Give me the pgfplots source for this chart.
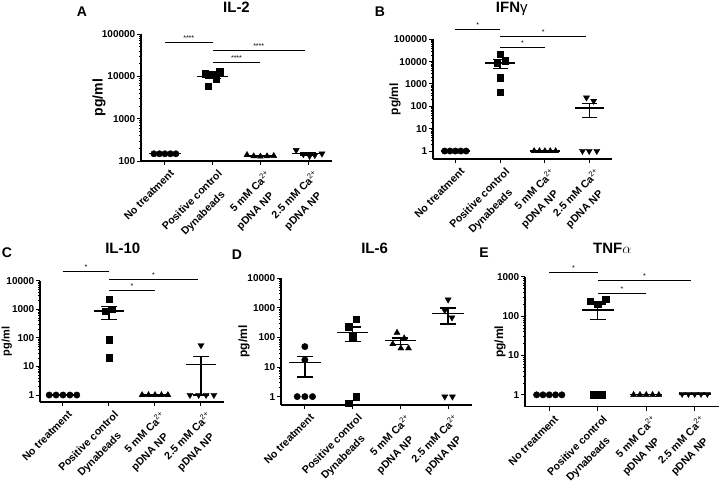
\documentclass[border=0pt]{standalone}
\usepackage{fontspec}
\setmainfont{Liberation Sans}
\usepackage{pgfplots}
\pgfplotsset{compat=1.18}

\pgfplotsset{
  cytopanel/.style={
    scale only axis,
    xmin=-0.5, xmax=3.5, xtick={0,1,2,3},
    xticklabels={No treatment,{Positive control\\Dynabeads\rule{13pt}{0pt}},{5 mM Ca\textsuperscript{\mdseries 2+}\\pDNA NP\rule{13pt}{0pt}},{2.5 mM Ca\textsuperscript{\mdseries 2+}\\pDNA NP\rule{13pt}{0pt}}},
    axis x line=bottom, axis y line=left,
    axis line style={-, line width=1.3pt},
    tick align=outside, major tick length=4pt, minor tick length=2.2pt,
    tick style={black, line width=1pt},
    minor tick style={black, line width=0.6pt},
    xticklabel style={rotate=45, anchor=north east, align=right, font=\bfseries\fontsize{10.6}{17}\selectfont, inner sep=1pt, xshift=1.5pt, yshift=-5pt},
    yticklabel style={font=\bfseries\fontsize{10}{10}\selectfont, inner sep=1.5pt},
    clip=false,
    title style={font=\bfseries\fontsize{15}{15}\selectfont, at={(0.5,1)}, anchor=base},
    ylabel style={font=\bfseries\fontsize{12}{12}\selectfont, anchor=center},
  },
  dot/.style={only marks, black, mark size=3.2pt, mark options={fill=black, solid}},
  dotv/.style={only marks, black, mark=triangle*, mark size=3.5pt, mark options={fill=black, solid, rotate=180}},
  errline/.style={black, line width=1.3pt, no marks},
  sigline/.style={black, line width=0.9pt, no marks},
}

% #1 left #2 right #3 capL #4 capR #5 center #6 mean #7 lo #8 hi
\newcommand{\msem}[8]{%
  \addplot[errline] coordinates {(#1,#6) (#2,#6)};
  \addplot[errline] coordinates {(#5,#7) (#5,#8)};
  \addplot[errline] coordinates {(#3,#7) (#4,#7)};
  \addplot[errline] coordinates {(#3,#8) (#4,#8)};
}
\newcommand{\sig}[4]{%
  \addplot[sigline] coordinates {(#1,#3) (#2,#3)} node[pos=0.5, above, inner sep=1.5pt, font=\fontsize{7}{7}\selectfont] {#4};
}

\begin{document}
\begin{tikzpicture}
\useasboundingbox (0,0) rectangle (724pt,-493pt);

\node[font=\bfseries\fontsize{14}{14}\selectfont] at (82pt,-12pt) {A};
\node[font=\bfseries\fontsize{14}{14}\selectfont] at (380pt,-12pt) {B};
\node[font=\bfseries\fontsize{14}{14}\selectfont] at (7pt,-253pt) {C};
\node[font=\bfseries\fontsize{14}{14}\selectfont] at (237pt,-255pt) {D};
\node[font=\bfseries\fontsize{14}{14}\selectfont] at (484pt,-253pt) {E};

% ---------------- A: IL-2
\begin{axis}[ymode=log, cytopanel, anchor=south west, at={(141pt,-161pt)}, width=191pt, height=127pt,
  ymin=100, ymax=100000,
  ytick={100,1000,10000,100000}, yticklabels={100,1000,10000,100000},
  minor ytick={200,300,400,500,600,700,800,900,2000,3000,4000,5000,6000,7000,8000,9000,20000,30000,40000,50000,60000,70000,80000,90000},
  title={IL-2}, title style={yshift=15.7pt},
  ylabel={pg/ml}, ylabel style={at={(axis description cs:-0.22,0.5)}, font=\bfseries\fontsize{14}{14}\selectfont}]
\msem{-0.33}{0.33}{-0.17}{0.17}{0}{148}{148}{148}
\msem{0.67}{1.33}{0.83}{1.17}{1}{10020}{8770}{11270}
\msem{1.67}{2.33}{1.83}{2.17}{2}{132}{130}{134}
\msem{2.67}{3.33}{2.83}{3.17}{3}{148}{139.5}{156.5}
\addplot[dot, mark=*] coordinates {(-0.23,148) (-0.115,148) (0,148) (0.115,148) (0.23,148)};
\addplot[dot, mark=square*] coordinates {(0.84,11600) (1.0,11200) (1.15,12900) (1.08,8500) (0.91,5900)};
\addplot[dot, mark=triangle*, mark size=3.5pt] coordinates {(1.72,139) (1.86,130) (2.0,128) (2.14,130) (2.28,132)};
\addplot[dotv] coordinates {(2.75,180) (2.9,144) (3.03,131) (3.14,137) (3.29,149)};
\sig{0}{1}{61800}{****}
\sig{1}{2.93}{40000}{****}
\sig{1}{2}{21600}{****}
\end{axis}

% ---------------- B: IFNg
\begin{axis}[ymode=log, cytopanel, anchor=south west, at={(433pt,-159pt)}, width=179pt, height=119.7pt,
  ymin=0.44, ymax=100000,
  ytick={1,10,100,1000,10000,100000}, yticklabels={1,10,100,1000,10000,100000},
  minor ytick={2,3,4,5,6,7,8,9,20,30,40,50,60,70,80,90,200,300,400,500,600,700,800,900,2000,3000,4000,5000,6000,7000,8000,9000,20000,30000,40000,50000,60000,70000,80000,90000},
  title={IFN{\mdseries γ}}, title style={at={(0.44,1)}, yshift=21pt},
  ylabel={pg/ml}, ylabel style={at={(axis description cs:-0.212,0.5)}}]
\msem{-0.33}{0.33}{-0.17}{0.17}{0}{1}{1}{1}
\msem{0.67}{1.33}{0.83}{1.17}{1}{8665}{4897}{12433}
\msem{1.67}{2.33}{1.83}{2.17}{2}{1}{1}{1}
\msem{2.67}{3.33}{2.83}{3.17}{3}{84.4}{32}{136}
\addplot[dot, mark=*] coordinates {(-0.24,1) (-0.12,1) (0,1) (0.12,1) (0.24,1)};
\addplot[dot, mark=square*] coordinates {(1.0,21500) (0.94,8500) (1.11,11000) (1.0,1900) (1.0,425)};
\addplot[dot, mark=triangle*, mark size=3.5pt] coordinates {(1.76,1) (1.88,1) (2,1) (2.12,1) (2.24,1)};
\addplot[dotv] coordinates {(2.93,245) (3.09,174) (2.84,1) (2.99,1) (3.16,1)};
\sig{0}{1}{280000}{*}
\sig{1}{2.93}{131000}{*}
\sig{1}{2}{42000}{*}
\end{axis}

% ---------------- C: IL-10
\begin{axis}[ymode=log, cytopanel, anchor=south west, at={(40pt,-402pt)}, width=184pt, height=121.3pt,
  ymin=0.57, ymax=10000,
  ytick={1,10,100,1000,10000}, yticklabels={1,10,100,1000,10000},
  minor ytick={2,3,4,5,6,7,8,9,20,30,40,50,60,70,80,90,200,300,400,500,600,700,800,900,2000,3000,4000,5000,6000,7000,8000,9000},
  title={IL-10}, title style={at={(0.45,1)}, yshift=20.7pt},
  ylabel={pg/ml}, ylabel style={at={(axis description cs:-0.181,0.5)}, font=\bfseries\fontsize{11}{11}\selectfont}]
\msem{-0.33}{0.33}{-0.17}{0.17}{0}{1}{1}{1}
\msem{0.67}{1.33}{0.83}{1.17}{1}{861}{448}{1274}
\msem{1.67}{2.33}{1.83}{2.17}{2}{1}{1}{1}
\msem{2.67}{3.33}{2.83}{3.17}{3}{11.8}{1}{22.6}
\addplot[dot, mark=*] coordinates {(-0.3,1) (-0.15,1) (0,1) (0.15,1) (0.3,1)};
\addplot[dot, mark=square*] coordinates {(1,2300) (0.93,870) (1.07,1030) (1,87) (1,20.5)};
\addplot[dot, mark=triangle*, mark size=3.5pt] coordinates {(1.72,1) (1.86,1) (2,1) (2.14,1) (2.28,1)};
\addplot[dotv] coordinates {(3.0,55) (2.76,1) (2.95,1) (3.11,1) (3.28,1)};
\sig{0}{1}{20700}{*}
\sig{1}{2.93}{10800}{*}
\sig{1}{2}{4600}{*}
\end{axis}

% ---------------- D: IL-6
\begin{axis}[ymode=log, cytopanel, anchor=south west, at={(281pt,-405pt)}, width=191pt, height=126.7pt,
  ymin=0.52, ymax=10000,
  ytick={1,10,100,1000,10000}, yticklabels={1,10,100,1000,10000},
  minor ytick={2,3,4,5,6,7,8,9,20,30,40,50,60,70,80,90,200,300,400,500,600,700,800,900,2000,3000,4000,5000,6000,7000,8000,9000},
  title={IL-6}, title style={at={(0.49,1)}, yshift=18.3pt},
  ylabel={pg/ml}, ylabel style={at={(axis description cs:-0.194,0.5)}}]
\msem{-0.33}{0.33}{-0.17}{0.17}{0}{13.9}{4.6}{23.2}
\msem{0.67}{1.33}{0.83}{1.17}{1}{149.7}{72}{227}
\msem{1.67}{2.33}{1.83}{2.17}{2}{77}{57.6}{96.4}
\msem{2.67}{3.33}{2.83}{3.17}{3}{638}{287}{989}
\addplot[dot, mark=*] coordinates {(0,49) (0,17.4) (-0.16,1) (0,1) (0.16,1)};
\addplot[dot, mark=square*] coordinates {(1.08,410) (0.92,230) (1.0,107) (1.08,1) (0.92,0.6)};
\addplot[dot, mark=triangle*, mark size=3.5pt] coordinates {(1.93,145) (1.84,60) (2.08,94) (2.01,43) (2.17,43)};
\addplot[dotv] coordinates {(3.0,1900) (2.93,820) (3.08,470) (2.93,1) (3.09,1)};
\end{axis}

% ---------------- E: TNFa
\begin{axis}[ymode=log, cytopanel, anchor=south west, at={(525pt,-406.7pt)}, width=194pt, height=130pt,
  ymin=0.5, ymax=1000,
  ytick={1,10,100,1000}, yticklabels={1,10,100,1000},
  minor ytick={2,3,4,5,6,7,8,9,20,30,40,50,60,70,80,90,200,300,400,500,600,700,800,900},
  title={TNF$\alpha$}, title style={at={(0.45,1)}, yshift=16.7pt},
  ylabel={pg/ml}, ylabel style={at={(axis description cs:-0.129,0.5)}}]
\msem{-0.33}{0.33}{-0.17}{0.17}{0}{1}{1}{1}
\msem{0.67}{1.33}{0.83}{1.17}{1}{142}{83}{201}
\msem{1.67}{2.33}{1.83}{2.17}{2}{1}{1}{1}
\msem{2.67}{3.33}{2.83}{3.17}{3}{1.05}{1.05}{1.05}
\addplot[dot, mark=*] coordinates {(-0.26,1) (-0.13,1) (0,1) (0.13,1) (0.26,1)};
\addplot[dot, mark=square*] coordinates {(0.84,240) (1.0,200) (1.16,270) (0.92,1) (1.08,1)};
\addplot[dot, mark=triangle*, mark size=3.5pt] coordinates {(1.74,1) (1.87,1) (2,1) (2.13,1) (2.26,1)};
\addplot[dotv] coordinates {(2.74,1.05) (2.87,1.05) (3,1.05) (3.13,1.05) (3.26,1.05)};
\sig{0}{1}{1260}{*}
\sig{1}{2.93}{790}{*}
\sig{1}{2}{380}{*}
\end{axis}
\end{tikzpicture}
\end{document}
